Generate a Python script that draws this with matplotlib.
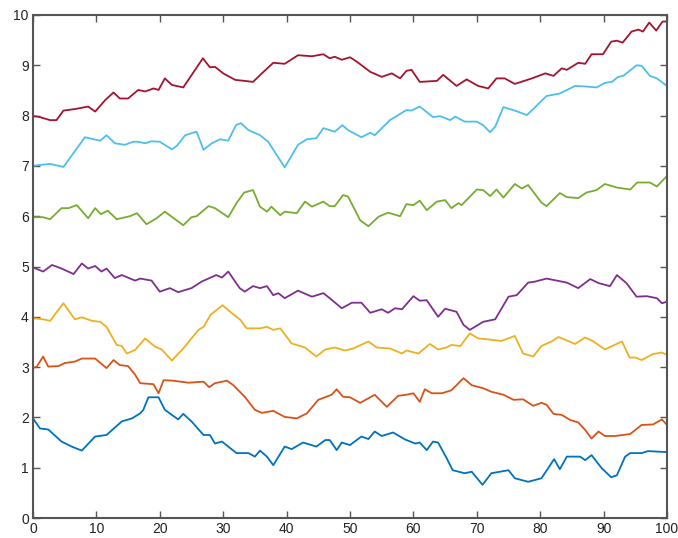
import matplotlib
matplotlib.use("Agg")
import matplotlib.pyplot as plt

# series data (x, y vertices)
x_blue = [0,1.1,2.4,4.5,6.1,7.7,9.8,11.6,14,15.6,16.9,17.4,18.2,19.8,20.8,22.9,23.7,25,26.9,27.9,28.7,29.8,32.1,34,35,35.8,36.9,37.9,39.7,40.8,42.6,44.7,46.1,46.8,47.9,48.7,50,51.8,52.9,53.9,55,56.8,58.7,60.3,61,62.1,63.1,63.9,65.2,66.2,68.1,69.2,70.9,72.3,75,76,78.1,80.2,82.2,83.1,84.2,86.3,87.1,88.1,89.7,91.2,92.1,93.4,94.2,96,97,100]
y_blue = [1.98,1.78,1.76,1.52,1.42,1.34,1.62,1.65,1.92,1.98,2.08,2.15,2.4,2.4,2.15,1.96,2.07,1.92,1.65,1.65,1.48,1.52,1.29,1.29,1.22,1.34,1.22,1.05,1.42,1.37,1.5,1.42,1.55,1.55,1.35,1.5,1.45,1.62,1.57,1.72,1.63,1.7,1.56,1.48,1.5,1.35,1.52,1.5,1.2,0.95,0.89,0.92,0.66,0.89,0.95,0.79,0.72,0.79,1.17,0.97,1.22,1.22,1.15,1.25,0.99,0.81,0.85,1.22,1.29,1.29,1.33,1.31]

x_orange = [0,0.6,1.6,2.4,4,5,6.6,7.7,9.8,11.6,12.7,13.7,15,16.1,16.9,19,19.8,20.6,22.1,24.5,26.9,27.8,28.7,30.6,31.6,33.4,35,36.1,37.9,39.7,41.6,43.2,45,47.1,47.9,48.9,50,51.6,52.9,53.9,55.8,57.6,58.9,60,61,61.8,62.9,64.5,66,67.9,69.2,71,72.3,74.2,75.8,77.3,78.9,80.2,81,82.1,83.4,84.7,86,87.1,88.1,89.2,90.2,91.8,94.2,96,97.8,99.2,100]
y_orange = [2.98,3.01,3.21,3.01,3.02,3.08,3.11,3.17,3.17,2.98,3.14,3.04,3.02,2.85,2.68,2.66,2.48,2.74,2.73,2.69,2.71,2.6,2.68,2.73,2.64,2.41,2.15,2.09,2.13,2.01,1.98,2.08,2.35,2.45,2.56,2.41,2.4,2.29,2.38,2.45,2.21,2.43,2.45,2.48,2.31,2.56,2.48,2.48,2.54,2.78,2.64,2.58,2.51,2.45,2.35,2.36,2.23,2.29,2.25,2.07,2.05,1.95,1.9,1.75,1.58,1.72,1.63,1.63,1.67,1.85,1.86,1.96,1.85]

x_yellow = [0,1.6,2.7,4.8,6.6,7.7,9.3,10.6,11.6,13.2,14,14.8,16.1,17.7,19.2,20.3,21.9,23.7,26.1,26.9,28,29.9,31.1,32.7,33.7,35.8,36.9,37.9,39,40.8,42.9,44.7,46.1,47.6,49.2,50.5,52.9,54.2,56.3,58.2,58.9,60.8,62.6,63.9,65.2,66,67.4,68.9,70.2,71.8,73.9,76,77.3,78.9,80.2,81.8,82.9,85.5,87.1,88.4,90.2,92.9,94.1,95,96,97.8,99.2,100]
y_yellow = [3.97,3.95,3.92,4.27,3.95,3.99,3.92,3.9,3.8,3.44,3.42,3.27,3.34,3.57,3.41,3.35,3.13,3.37,3.74,3.8,4.04,4.23,4.1,3.94,3.77,3.77,3.8,3.74,3.77,3.47,3.39,3.21,3.35,3.39,3.33,3.37,3.51,3.39,3.37,3.27,3.33,3.27,3.46,3.35,3.39,3.44,3.42,3.67,3.57,3.55,3.52,3.62,3.27,3.21,3.42,3.51,3.6,3.46,3.59,3.51,3.35,3.51,3.19,3.19,3.14,3.26,3.29,3.24]

x_purple = [0,1.6,3,4.5,6.4,7.7,8.7,9.8,10.8,11.6,12.9,14,16.1,16.9,18.7,20,21.6,22.9,25,26.6,28.9,29.8,30.8,32.6,33.4,34.7,35.8,36.9,37.9,38.7,39.7,41.8,44,45.8,46.8,48.7,50.3,51.8,53.2,55,56,57.1,58.2,60,61,62.1,63.9,65,66.8,67.9,68.9,71,72.9,75,76.3,78.1,79.2,81,84.2,86,87.9,89.2,91,92.1,93.6,95.2,96.8,98.4,99.2,100]
y_purple = [4.98,4.9,5.03,4.96,4.85,5.06,4.96,5.01,4.9,4.96,4.77,4.83,4.72,4.76,4.72,4.5,4.57,4.49,4.57,4.7,4.83,4.78,4.9,4.57,4.5,4.61,4.57,4.61,4.43,4.47,4.37,4.52,4.4,4.47,4.37,4.17,4.28,4.28,4.08,4.15,4.08,4.17,4.15,4.41,4.32,4.33,4.0,4.16,4.1,3.84,3.74,3.9,3.95,4.4,4.43,4.68,4.7,4.76,4.68,4.57,4.75,4.67,4.61,4.83,4.67,4.4,4.41,4.37,4.27,4.3]

x_green = [0,1.6,2.7,4.5,5.6,6.9,8.7,9.8,10.7,11.8,13.2,15.3,16.4,17.9,19.5,20.8,23.7,25,25.8,27.7,28.7,30.8,32.1,33.3,34.7,35.8,36.9,37.6,39,39.7,41.6,42.9,44,45.8,46.8,47.6,48.9,49.7,51.6,52.9,54.5,56,57.9,58.9,60,61,62.1,63.7,65,66,67.1,67.6,70,71,72.1,73.1,74.2,76,77.1,78.1,80.2,81,83.1,84.2,86,87.3,88.9,90.2,92.1,94.2,95.3,97.3,98.4,100]
y_green = [5.98,5.98,5.94,6.16,6.16,6.22,5.96,6.16,6.04,6.11,5.94,6.0,6.06,5.84,5.96,6.09,5.82,5.98,6.0,6.2,6.16,5.98,6.26,6.47,6.52,6.19,6.09,6.19,6.02,6.09,6.06,6.29,6.19,6.29,6.2,6.2,6.42,6.39,5.92,5.8,5.99,6.07,6.0,6.24,6.22,6.31,6.12,6.29,6.32,6.16,6.26,6.22,6.53,6.52,6.4,6.53,6.37,6.64,6.55,6.62,6.27,6.2,6.46,6.38,6.36,6.47,6.52,6.64,6.57,6.53,6.67,6.67,6.59,6.8]

x_cyan = [0,1.1,2.7,4.8,8.2,10.6,11.6,12.9,14.5,15.8,16.6,17.7,18.7,20,21.9,22.7,24,25.8,26.9,28.2,29.5,30.8,32,32.8,34,35.8,37.1,39.7,41.8,43.2,44.7,45.8,47.6,48.8,49.7,51.8,53.2,53.9,56.3,58.9,59.7,61,63.1,64.2,65.8,66.6,68.1,70,71,72.1,72.9,74.2,76,77.9,79.7,81,83.1,85.5,87.1,88.9,90.2,91.3,92.3,93.1,95.2,96,97.3,98.4,100]
y_cyan = [7.0,7.02,7.04,6.98,7.57,7.5,7.61,7.45,7.42,7.48,7.48,7.45,7.49,7.48,7.33,7.4,7.61,7.68,7.32,7.45,7.53,7.5,7.81,7.85,7.71,7.61,7.48,6.97,7.42,7.53,7.55,7.75,7.68,7.81,7.71,7.57,7.66,7.61,7.91,8.11,8.1,8.18,7.97,7.99,7.91,7.98,7.88,7.88,7.81,7.67,7.78,8.17,8.1,8.01,8.23,8.39,8.44,8.59,8.58,8.56,8.65,8.67,8.77,8.79,9.0,8.99,8.79,8.74,8.59]

x_red = [0,0.8,2.7,3.7,4.8,6.6,8.7,9.8,11.4,12.7,13.7,15,16.6,17.7,19,19.8,20.8,21.9,23.7,26.8,27.9,28.7,30,31.9,33.4,34.7,36.1,37.9,39.7,41.8,44,45.8,46.8,47.6,48.7,50,51.1,53.2,55,56.6,57.9,58.9,59.7,61,63.7,64.7,66.8,68.4,70.2,71.8,73.1,74.4,76,78.7,80.8,82.1,83.4,84.2,86,87.1,88.1,89.9,91.2,92.1,93,94.4,95.5,96.2,97.2,98.3,99.3,100]
y_red = [7.99,7.98,7.91,7.91,8.1,8.13,8.18,8.08,8.31,8.46,8.34,8.34,8.51,8.48,8.54,8.51,8.74,8.61,8.56,9.14,8.96,8.97,8.84,8.71,8.69,8.67,8.84,9.05,9.03,9.2,9.18,9.22,9.14,9.17,9.11,9.16,9.07,8.87,8.77,8.84,8.74,8.89,8.91,8.67,8.69,8.81,8.59,8.72,8.59,8.54,8.74,8.74,8.63,8.74,8.84,8.79,8.94,8.91,9.05,9.03,9.22,9.22,9.47,9.49,9.45,9.67,9.71,9.67,9.85,9.69,9.87,9.87]

series = [
    (x_blue, y_blue, "#0072BD"),
    (x_orange, y_orange, "#D95319"),
    (x_yellow, y_yellow, "#EDB120"),
    (x_purple, y_purple, "#7E2F8E"),
    (x_green, y_green, "#77AC30"),
    (x_cyan, y_cyan, "#4DBEEE"),
    (x_red, y_red, "#A2142F"),
]

x_ticks = list(range(0, 101, 10))
y_ticks = list(range(0, 11))

plt.rcParams['font.family'] = ['Liberation Sans', 'DejaVu Sans']

fig = plt.figure(figsize=(6.78, 5.38), dpi=100)
ax = fig.add_axes([33/678, 20/538, 634/678, 503/538])
for xs, ys, c in series:
    ax.plot(xs, ys, color=c, linewidth=1.3)

ax.set_xlim(0, 100)
ax.set_ylim(0, 10)
ax.set_xticks(x_ticks)
ax.set_yticks(y_ticks)
for s in ax.spines.values():
    s.set_color('#555555')
    s.set_linewidth(1.5)
ax.tick_params(direction='in', top=True, right=True, length=5, width=1,
               color='#555555', labelsize=10, labelcolor='#222222', pad=3)
fig.savefig("out.png", dpi=100)
